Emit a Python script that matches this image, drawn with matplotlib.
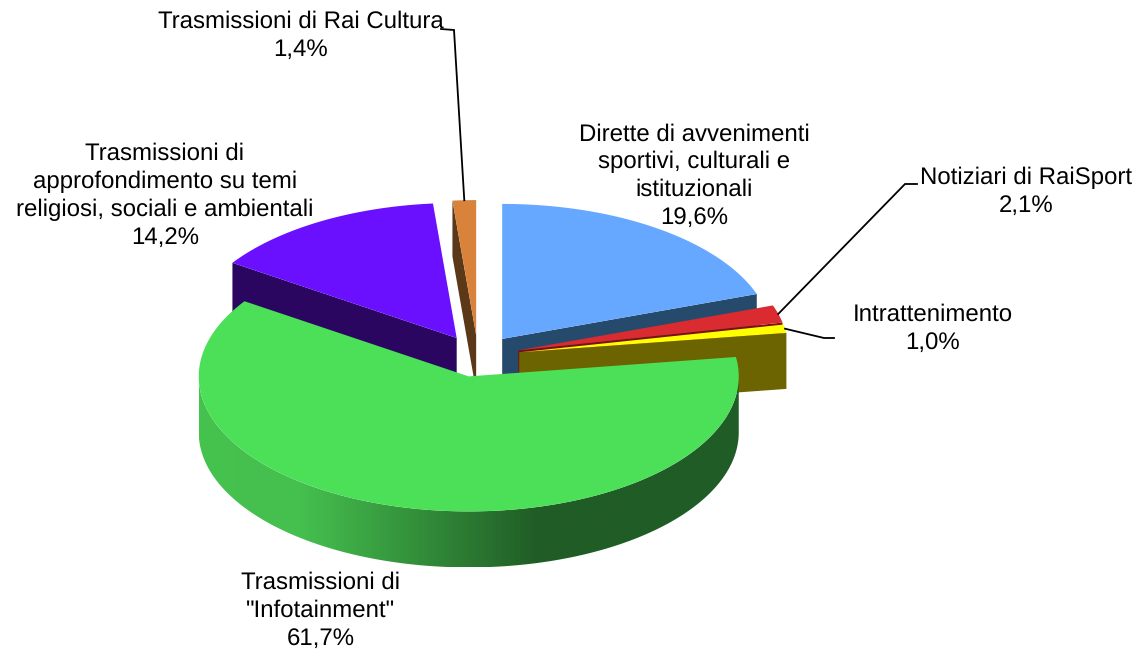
import numpy as np
import matplotlib
matplotlib.use("Agg")
import matplotlib.pyplot as plt
from matplotlib.patches import Polygon
from matplotlib.colors import LinearSegmentedColormap

plt.rcParams['font.family'] = ['Liberation Sans', 'DejaVu Sans']
plt.rcParams['text.hinting'] = 'none'
plt.rcParams['text.hinting_factor'] = 1

# data
categories = ['Dirette di avvenimenti\nsportivi, culturali e\nistituzionali',
              'Notiziari di RaiSport', 'Intrattenimento',
              'Trasmissioni di\n"Infotainment"',
              'Trasmissioni di\napprofondimento su temi\nreligiosi, sociali e ambientali',
              'Trasmissioni di Rai Cultura']
shares = [19.6, 2.1, 1.0, 61.7, 14.2, 1.4]
top_colors = ['#66a8ff', '#d92b30', '#ffff00', '#4cdf58', '#6a10ff', '#d8823c']
side_colors = ['#264a6c', '#7c0f12', '#6b6400', '#205c26', '#2a0660', '#5b3818']
label_centers = [(694, 176), (1026, 191.5), (933, 329), (321, 610.5), (165, 195.5), (300.5, 36)]
leader_elbows = [None, [(905, 184), (917, 184)], [(824, 338), (834, 338)], None, None,
                 [(454, 30), (441, 29)]]

# layout
CX, CY, RX, RY, DEPTH, EXPLODE = 478, 356, 270, 135, 56, 0.155

fig = plt.figure(figsize=(11.4, 6.51), dpi=100)
ax = fig.add_axes([0, 0, 1, 1])
ax.set_axis_off()

fracs = np.array(shares) / sum(shares)
ends = 90 - 360 * np.cumsum(fracs)
starts = ends + 360 * fracs
mids = (starts + ends) / 2


def apex(i):
    a = np.radians(mids[i])
    return CX + EXPLODE * RX * np.cos(a), CY - EXPLODE * RY * np.sin(a)


def rim(i, deg, dz=0.0):
    ax0, ay0 = apex(i)
    a = np.radians(deg)
    return np.column_stack([ax0 + RX * np.cos(a), ay0 - RY * np.sin(a) + dz])


def wall(i, deg):
    p = rim(i, np.array([deg]))[0]
    a = apex(i)
    return [a, p, (p[0], p[1] + DEPTH), (a[0], a[1] + DEPTH)]


def top(i):
    arc = rim(i, np.linspace(starts[i], ends[i], 200))
    return np.vstack([[apex(i)], arc])


z = 1
# back-to-front: the side faces that are turned to the viewer, then the tops
draw_order = [(4, starts[4]), (5, starts[5]), (0, ends[0]), (1, ends[1]), (2, ends[2])]
for i, deg in draw_order:
    ax.add_patch(Polygon(wall(i, deg), closed=True, fc=side_colors[i], ec='none', zorder=z))
    z += 1
    ax.add_patch(Polygon(top(i), closed=True, fc=top_colors[i], ec='none', zorder=z))
    z += 1

# big slice: outer wall with its shading, then top
G = categories.index('Trasmissioni di\n"Infotainment"')
ang = np.linspace(180, 360, 300)
wall_pts = np.vstack([rim(G, ang), rim(G, ang[::-1], DEPTH)])
wall_patch = Polygon(wall_pts, closed=True, fc='none', ec='none', transform=ax.transData)
ax.add_patch(wall_patch)
x0, x1 = wall_pts[:, 0].min(), wall_pts[:, 0].max()
cmap = LinearSegmentedColormap.from_list('g', [(0, '#46c24f'), (0.19, '#45bf4e'), (0.63, side_colors[G]), (1, side_colors[G])])
im = ax.imshow(np.linspace(0, 1, 512)[None, :], cmap=cmap, vmin=0, vmax=1, aspect='auto',
               extent=(x0, x1, wall_pts[:, 1].max(), wall_pts[:, 1].min()), zorder=z)
im.set_clip_path(wall_patch)
z += 1
ax.add_patch(Polygon(top(G), closed=True, fc=top_colors[G], ec='none', zorder=z))
z += 1

ax.set_xlim(0, 1140)
ax.set_ylim(651, 0)

# labels and leaders
for i, (name, val) in enumerate(zip(categories, shares)):
    txt = f"{name}\n{val:.1f}".replace('.', ',') + '%'
    ax.text(*label_centers[i], txt, ha='center', va='center', fontsize=17.0, color='black',
            linespacing=1.32, zorder=z + 1)
    if leader_elbows[i]:
        a = apex(i)
        m = np.radians(mids[i])
        start = (a[0] + RX * np.cos(m), a[1] - RY * np.sin(m))
        xs, ys = zip(start, *leader_elbows[i])
        ax.plot(xs, ys, color='black', lw=1.3, zorder=z + 1, solid_joinstyle='miter')

fig.savefig('out.png', dpi=100)
